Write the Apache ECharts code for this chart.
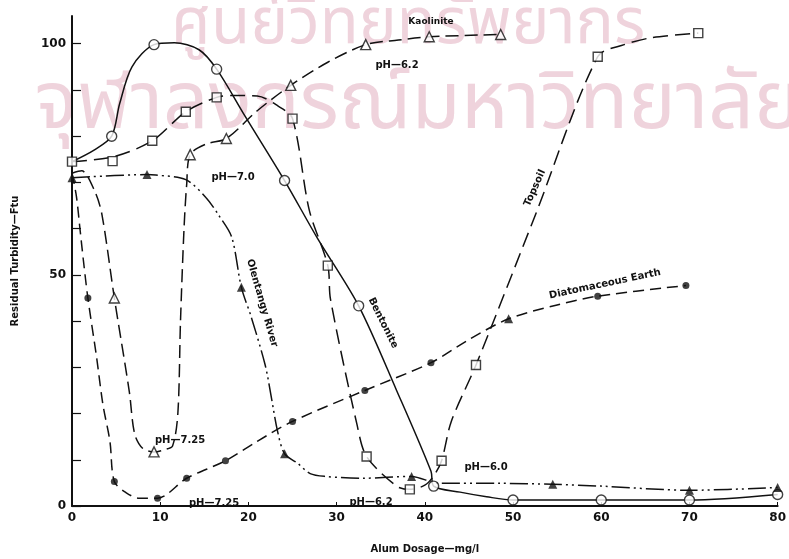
<!DOCTYPE html>
<html>
<head>
<meta charset="utf-8">
<script src="https://cdn.jsdelivr.net/npm/echarts@6/dist/echarts.min.js"></script>
<style>
  html, body { margin: 0; padding: 0; background: #fff; }
  #chart { width: 789px; height: 559px; }
</style>
</head>
<body>
<div id="chart"></div>
<script>
// axis ticks
var xTickValues = [0, 10, 20, 30, 40, 50, 60, 70, 80];
var yTickValues = [0, 10, 20, 30, 40, 50, 60, 70, 80, 90, 100];
var yLabelValues = [0, 50, 100];

// Bentonite - solid line, open circles
var bentoniteCurve = [[0, 74.5], [2.5, 77], [4.5, 80], [5.4, 87], [6.8, 95], [9.3, 99.8], [11.6, 100.2], [14.4, 98.7],
  [16.4, 94.5], [19.6, 84.4], [24.1, 70.4], [27.8, 58], [32.5, 43.3], [36.8, 25], [40.7, 7.5], [41, 4.3],
  [44, 3], [47, 2], [50, 1.3], [60, 1.3], [70, 1.3], [80, 2.5]];
var bentoniteMarks = [[4.5, 80], [9.3, 99.8], [16.4, 94.5], [24.1, 70.4], [32.5, 43.3], [41, 4.3],
  [50, 1.3], [60, 1.3], [70, 1.3], [80, 2.5]];

// Kaolinite - dashed, open triangles
var kaoliniteCurve = [[0, 72], [1.1, 72.5], [2.6, 68], [3.4, 63], [4.8, 45], [6.5, 24.7], [7.1, 15.6], [8, 12.5],
  [9.3, 11.7], [10.5, 12.2], [11.4, 13], [12, 20], [12.3, 40], [12.7, 60], [13, 69.5], [13.4, 76],
  [15.2, 78.3], [17.5, 79.5], [21, 85.5], [24.8, 91], [29, 96], [33.3, 99.8], [37, 100.8], [40.5, 101.5], [48.6, 102]];
var kaoliniteMarks = [[4.8, 45], [9.3, 11.7], [13.4, 76], [17.5, 79.5], [24.8, 91], [33.3, 99.8], [40.5, 101.5], [48.6, 102]];

// Topsoil - dashed, open squares
var topsoilCurve = [[0, 74.5], [4.6, 75.5], [9.1, 79], [12.9, 85.3], [16.4, 88.4], [18.1, 88.8], [21, 88.7], [23.3, 86.6],
  [25, 83.8], [26.9, 64], [29, 52], [29.3, 44.8], [32.3, 17.7], [33.4, 10.7], [36.8, 4.3], [38.3, 3.6],
  [40, 4.5], [41, 6.5], [41.9, 9.8], [43, 18.3], [45.8, 30.5], [52.5, 62.8], [59.6, 97.2], [62.6, 99.8],
  [65.7, 101.3], [71, 102.3]];
var topsoilMarks = [[0, 74.5], [4.6, 74.6], [9.1, 79], [12.9, 85.3], [16.4, 88.4], [25, 83.8], [29, 52], [33.4, 10.7],
  [38.3, 3.6], [41.9, 9.8], [45.8, 30.5], [59.6, 97.2], [71, 102.3]];

// Diatomaceous Earth - dashed, filled circles
var diatomCurve = [[0, 72], [0.5, 67], [0.9, 60], [1.3, 53], [1.8, 45], [2.8, 32], [3.5, 22], [4.3, 14], [4.8, 5.3],
  [6.2, 2.8], [7.6, 1.7], [9.7, 1.7], [13, 6], [17.4, 9.8], [21, 14], [25, 18.3], [33.2, 25], [40.7, 31],
  [45, 36], [49.5, 40.5], [55, 43.5], [59.6, 45.4], [69.6, 47.7]];
var diatomMarks = [[1.8, 45], [4.8, 5.3], [9.7, 1.7], [13, 6], [17.4, 9.8], [25, 18.3], [33.2, 25], [40.7, 31],
  [59.6, 45.4], [69.6, 47.7]];
var diatomTriMarks = [[49.5, 40.5]];

// Olentangy River - dash dot dot, filled triangles
var olentangyCurve = [[0, 71], [8.5, 71.7], [9.5, 71.6], [12.9, 70.6], [15.2, 66.7], [16.6, 63], [18.1, 58.2],
  [19.2, 47.3], [20.3, 41], [21.9, 30.5], [22.6, 23.5], [23.3, 16.2], [24.1, 11.3], [25.6, 9.2], [27, 7],
  [28.7, 6.4], [33, 6], [38.5, 6.4], [41.6, 4.9], [48.6, 4.9], [54.5, 4.7], [60, 4.3], [70, 3.4], [80, 4]];
var olentangyMarks = [[0, 71], [8.5, 71.7], [19.2, 47.3], [24.1, 11.3], [38.5, 6.4], [54.5, 4.7], [70, 3.4], [80, 4]];

var ink = '#111';
var labelFont = 'DejaVu Sans';
var thaiFont = 'Noto Sans Thai, Noto Sans, DejaVu Sans, sans-serif';

function curve(name, data, type) {
  return {
    name: name, type: 'line', data: data, smooth: 0.3, showSymbol: false, z: 2,
    lineStyle: { color: ink, width: 1.5, type: type }
  };
}
function marks(data, symbol, size, filled) {
  return {
    type: 'scatter', data: data, symbol: symbol, symbolSize: size, z: 3,
    itemStyle: { color: filled ? ink : '#fff', borderColor: ink, borderWidth: filled ? 0 : 1.4 }
  };
}
function note(text, x, y, rot, size) {
  return {
    type: 'text', x: x, y: y, rotation: rot || 0, z: 10,
    style: { text: text, fontSize: size || 10, fontWeight: 'bold', fontFamily: labelFont, fill: ink, align: 'center', verticalAlign: 'middle' }
  };
}

var chart = echarts.init(document.getElementById('chart'));
var option = {
  animation: false,
  backgroundColor: '#fff',
  grid: { left: 72, right: 4, top: 16, bottom: 46 },
  xAxis: {
    type: 'value', min: 0, max: 80, interval: 10,
    name: 'Alum Dosage—mg/l', nameLocation: 'middle', nameGap: 38,
    nameTextStyle: { color: ink, fontSize: 10, fontWeight: 'bold', fontFamily: labelFont },
    axisLine: { lineStyle: { color: ink, width: 2 } },
    axisTick: { inside: true, length: 4, lineStyle: { color: ink }, customValues: xTickValues },
    axisLabel: { color: ink, fontSize: 12, fontWeight: 'bold', fontFamily: labelFont, margin: 6 },
    splitLine: { show: false }
  },
  yAxis: {
    type: 'value', min: 0, max: 106,
    name: 'Residual Turbidity—Ftu', nameLocation: 'middle', nameGap: 52, nameRotate: 90,
    nameTextStyle: { color: ink, fontSize: 10, fontWeight: 'bold', fontFamily: labelFont },
    axisLine: { show: true, lineStyle: { color: ink, width: 2 } },
    axisTick: { show: true, inside: true, length: 9, lineStyle: { color: ink, width: 1.2 }, customValues: yTickValues },
    axisLabel: { color: ink, fontSize: 12, fontWeight: 'bold', fontFamily: labelFont, margin: 6, customValues: yLabelValues },
    splitLine: { show: false }
  },
  graphic: [
    { type: 'text', x: 408, y: 30, z: -1, silent: true,
      style: { text: 'ศูนย์วิทยทรัพยากร', fontSize: 64, fontFamily: thaiFont, fill: '#efd3dc', align: 'center', verticalAlign: 'middle' } },
    { type: 'text', x: 418, y: 112, z: -1, silent: true,
      style: { text: 'จุฬาลงกรณ์มหาวิทยาลัย', fontSize: 80, fontFamily: thaiFont, fill: '#efd3dc', align: 'center', verticalAlign: 'middle' } },
    note('Kaolinite', 431, 22, 0, 9),
    note('pH—6.2', 397, 65),
    note('pH—7.0', 233, 177),
    note('Olentangy River', 262, 303, -1.29),
    note('Bentonite', 383, 323, -1.11),
    note('Topsoil', 535, 188, 1.15),
    note('Diatomaceous Earth', 605, 284, 0.21),
    note('pH—7.25', 180, 440),
    note('pH—7.25', 214, 503),
    note('pH—6.2', 371, 502),
    note('pH—6.0', 486, 467)
  ],
  series: [
    curve('Bentonite', bentoniteCurve, 'solid'),
    curve('Kaolinite', kaoliniteCurve, [13, 6]),
    curve('Topsoil', topsoilCurve, [15, 7]),
    curve('Diatomaceous Earth', diatomCurve, [11, 6]),
    curve('Olentangy River', olentangyCurve, [18, 4, 2, 4, 2, 4]),
    marks(bentoniteMarks, 'circle', 10, false),
    marks(kaoliniteMarks, 'triangle', 10, false),
    marks(topsoilMarks, 'rect', 9, false),
    marks(diatomMarks, 'circle', 7, true),
    marks(diatomTriMarks, 'triangle', 9, true),
    marks(olentangyMarks, 'triangle', 9, true)
  ]
};
chart.setOption(option);
</script>
</body>
</html>
